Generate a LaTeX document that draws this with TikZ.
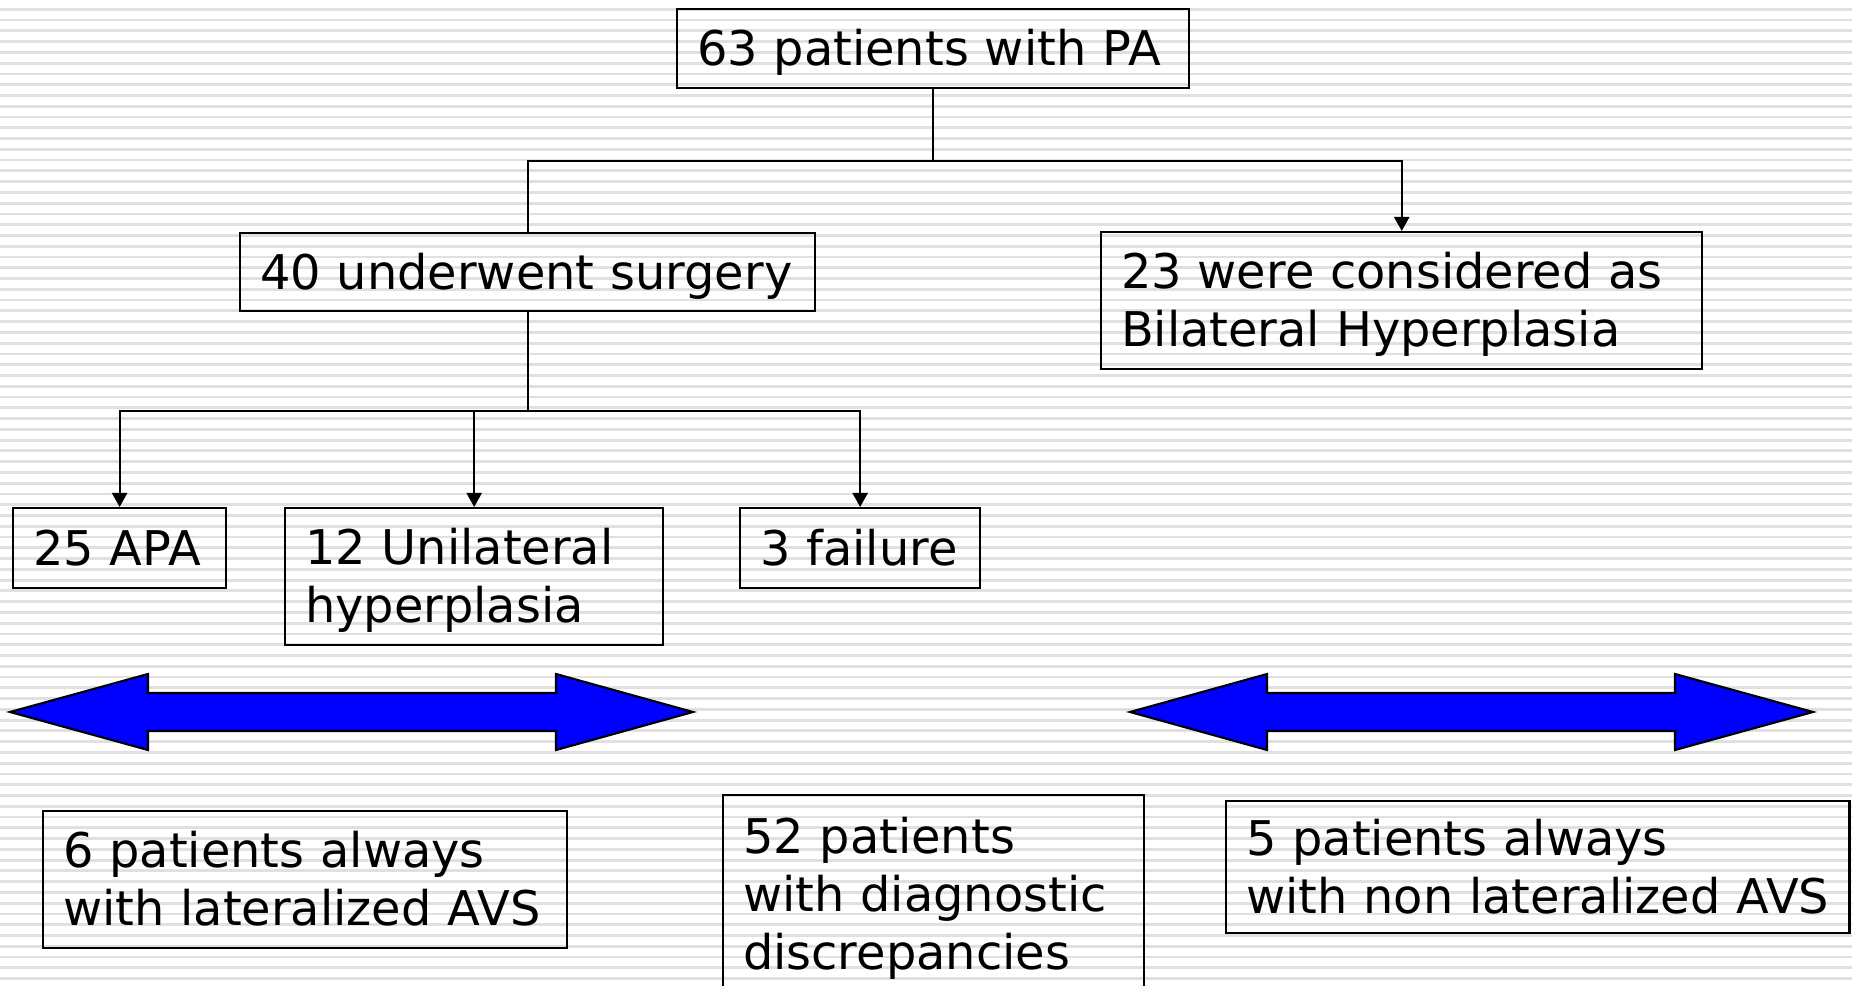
\documentclass[tikz,border=0pt]{standalone}
\usepackage{fontspec}
\setmainfont{DejaVu Sans}
\usetikzlibrary{arrows.meta}

% cale verticale : même hauteur de ligne pour toutes les boîtes
\newcommand{\cale}{\rule[-3.3pt]{0pt}{16.4pt}}

\tikzset{
  boite/.style={draw, line width=0.6pt, anchor=north west, align=left,
    inner xsep=0.2cm, inner ysep=0pt,
    font=\fontsize{13.6}{16.5}\selectfont,
    execute at begin node=\cale, execute at end node=\cale},
  lien/.style={line width=0.6pt},
  fleche/.style={lien, -{Triangle[width=4.3pt,length=4pt]}},
  rayure/.style={black!12, line width=0.8pt},
  doublefleche/.style={draw=black, fill=blue, line width=0.6pt},
}

\begin{document}
\begin{tikzpicture}[x=0.01cm, y=-0.01cm]
  % fond rayé
  \useasboundingbox (0,0) rectangle (1852,986);
  \clip (0,0) rectangle (1852,986);
  \fill[white] (0,0) rectangle (1852,986);
  \foreach \k in {0,...,91}
    \draw[rayure] (0,{9.3+10.77*\k}) -- (1852,{9.3+10.77*\k});

  % boîtes du haut
  \node[boite, text width=4.72cm, minimum height=0.79cm] (pa) at (676,8) {63~patients~with~PA};
  \node[boite, text width=5.35cm, minimum height=0.78cm] (chir) at (239,232) {40~underwent~surgery};
  \node[boite, text width=5.61cm, minimum height=1.37cm] (bil) at (1100,231) {23 were considered as\\Bilateral Hyperplasia};

  % résultats de la chirurgie
  \node[boite, text width=1.73cm, minimum height=0.80cm] (apa) at (12,507) {25~APA};
  \node[boite, text width=3.38cm, minimum height=1.37cm] (uni) at (284,507) {12 Unilateral\\hyperplasia};
  \node[boite, text width=2.00cm, minimum height=0.80cm] (echec) at (739,507) {3~failure};

  % boîtes du bas
  \node[boite, text width=4.84cm, minimum height=1.37cm] (lat) at (42,810) {6 patients always\\with~lateralized~AVS};
  \node[boite, text width=3.81cm, minimum height=1.99cm] (disc) at (722,794) {52 patients\\with diagnostic\\discrepancies};
  \node[boite, text width=5.83cm, minimum height=1.32cm] (nonlat) at (1225,800) {5 patients always\\with~non~lateralized~AVS};

  % arbre
  \path (pa.south) ++(0,72) coordinate (n1);
  \draw[lien] (pa.south) -- (n1);
  \draw[lien] (n1) -| (chir.north);
  \draw[fleche] (n1) -| (bil.north);

  \path (chir.south) ++(0,99) coordinate (n2);
  \draw[lien] (chir.south) -- (n2);
  \draw[fleche] (n2) -| (apa.north);
  \draw[fleche] (n2) -| (uni.north);
  \draw[fleche] (n2) -| (echec.north);

  % flèches bleues
  \foreach \a/\b/\c/\d in {10/148/556/693, 1130/1267/1675/1813}
    \draw[doublefleche] (\a,712) -- (\b,674) -- (\b,693) -- (\c,693) -- (\c,674)
      -- (\d,712) -- (\c,750) -- (\c,731) -- (\b,731) -- (\b,750) -- cycle;
\end{tikzpicture}
\end{document}
